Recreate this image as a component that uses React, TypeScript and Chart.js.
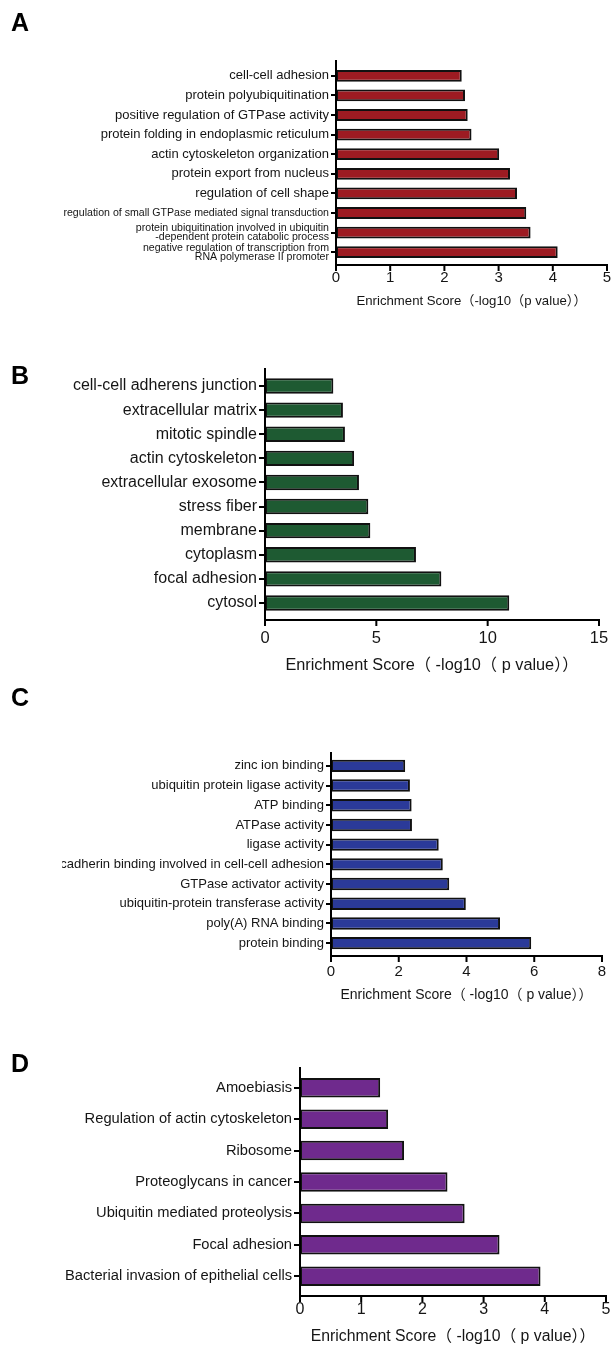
import React, { useEffect, useRef } from 'react';
import { Chart, registerables } from 'chart.js';
Chart.register(...registerables);

const FONT = '"Liberation Sans", Arial, "Noto Sans CJK SC", sans-serif';
const TEXT = '#151515';

// ---------- Panel A: biological process ----------
const aCategories: (string | string[])[] = [
  'cell-cell adhesion',
  'protein polyubiquitination',
  'positive regulation of GTPase activity',
  'protein folding in endoplasmic reticulum',
  'actin cytoskeleton organization',
  'protein export from nucleus',
  'regulation of cell shape',
  'regulation of small GTPase mediated signal transduction',
  ['protein ubiquitination involved in ubiquitin', '-dependent protein catabolic process'],
  ['negative regulation of transcription from', 'RNA polymerase II promoter'],
];
const aValues = [2.32, 2.38, 2.43, 2.5, 3.01, 3.21, 3.34, 3.51, 3.59, 4.09];
const aAxisMax = 5;
const aAxisStep = 1;
const aTitle = 'Enrichment Score（-log10（p value））';

// ---------- Panel B: cellular component ----------
const bCategories = [
  'cell-cell adherens junction',
  'extracellular matrix',
  'mitotic spindle',
  'actin cytoskeleton',
  'extracellular exosome',
  'stress fiber',
  'membrane',
  'cytoplasm',
  'focal adhesion',
  'cytosol',
];
const bValues = [3.07, 3.5, 3.59, 4.0, 4.22, 4.64, 4.73, 6.78, 7.92, 10.97];
const bAxisMax = 15;
const bAxisStep = 5;
const bTitle = 'Enrichment Score（ -log10（ p value））';

// ---------- Panel C: molecular function ----------
const cCategories = [
  'zinc ion binding',
  'ubiquitin protein ligase activity',
  'ATP binding',
  'ATPase activity',
  'ligase activity',
  'cadherin binding involved in cell-cell adhesion',
  'GTPase activator activity',
  'ubiquitin-protein transferase activity',
  'poly(A) RNA binding',
  'protein binding',
];
const cValues = [2.19, 2.33, 2.38, 2.39, 3.18, 3.3, 3.49, 3.98, 4.99, 5.91];
const cAxisMax = 8;
const cAxisStep = 2;
const cTitle = 'Enrichment Score（ -log10（ p value））';

// ---------- Panel D: KEGG pathways ----------
const dCategories = [
  'Amoebiasis',
  'Regulation of actin cytoskeleton',
  'Ribosome',
  'Proteoglycans in cancer',
  'Ubiquitin mediated proteolysis',
  'Focal adhesion',
  'Bacterial invasion of epithelial cells',
];
const dValues = [1.31, 1.44, 1.7, 2.41, 2.69, 3.26, 3.93];
const dAxisMax = 5;
const dAxisStep = 1;
const dTitle = 'Enrichment Score（ -log10（ p value））';

const prismAxes = {
  id: 'prismAxes',
  afterDraw(chart: any, _args: any, opts: any) {
    const { ctx, chartArea } = chart;
    const { left, right, top, bottom } = chartArea;
    const xs = chart.scales.x;
    const yb = bottom + opts.extBottom;
    ctx.save();
    ctx.strokeStyle = '#000';
    ctx.lineWidth = 2;
    ctx.beginPath();
    ctx.moveTo(left, top - opts.extTop);
    ctx.lineTo(left, yb);
    ctx.lineTo(right + 1, yb);
    ctx.stroke();
    ctx.lineWidth = 2;
    ctx.beginPath();
    xs.ticks.forEach((t: any) => {
      const px = xs.getPixelForValue(t.value);
      ctx.moveTo(px, yb);
      ctx.lineTo(px, yb + 6);
    });
    ctx.stroke();
    ctx.restore();
  },
};

type Spec = {
  categories: any[];
  values: number[];
  color: string;
  xMax: number;
  xStep: number;
  title: string;
  left: number;
  top: number;
  width: number;
  height: number;
  axisX: number;
  areaTop: number;
  areaBottom: number;
  areaRight: number;
  extTop: number;
  extBottom: number;
  labelFont: any;
  tickFont: number;
  tickCenterY: number;
  titleFont: number;
  titleCenterY: number;
  barPct: number;
  yTickLen: number;
};

function BarPanel({ spec }: { spec: Spec }) {
  const ref = useRef<HTMLCanvasElement>(null);
  useEffect(() => {
    const s = spec;
    const chart = new Chart(ref.current as HTMLCanvasElement, {
      type: 'bar',
      data: {
        labels: s.categories,
        datasets: [
          {
            data: s.values,
            backgroundColor: s.color,
            borderColor: '#111',
            borderWidth: 2,
            borderSkipped: false,
            barPercentage: s.barPct,
            categoryPercentage: 1,
          },
        ],
      },
      options: {
        indexAxis: 'y',
        animation: false,
        responsive: false,
        devicePixelRatio: 1,
        layout: {
          padding: {
            top: s.areaTop - s.top,
            right: s.left + s.width - s.areaRight,
            left: 0,
            bottom: 0,
          },
        },
        plugins: {
          legend: { display: false },
          tooltip: { enabled: false },
          prismAxes: { extTop: s.extTop, extBottom: s.extBottom },
        } as any,
        scales: {
          x: {
            type: 'linear',
            min: 0,
            max: s.xMax,
            ticks: {
              stepSize: s.xStep,
              color: TEXT,
              font: { family: FONT, size: s.tickFont },
              padding: s.tickCenterY - s.areaBottom - (s.tickFont * 1.2) / 2,
            },
            grid: { display: false, drawTicks: false },
            border: { display: false },
            title: {
              display: true,
              text: s.title,
              color: TEXT,
              font: { family: FONT, size: s.titleFont },
              padding: {
                top: 0,
                bottom: s.top + s.height - s.titleCenterY - (s.titleFont * 1.2) / 2,
              },
            },
            afterFit: (sc: any) => {
              sc.height = s.top + s.height - s.areaBottom;
              sc.paddingLeft = 0;
              sc.paddingRight = 0;
            },
          },
          y: {
            ticks: {
              autoSkip: false,
              color: TEXT,
              font: s.labelFont,
              padding: 2,
            },
            grid: {
              display: true,
              drawOnChartArea: false,
              drawTicks: true,
              tickLength: s.yTickLen,
              color: '#000',
              lineWidth: 2,
              offset: false,
            },
            border: { display: false },
            afterFit: (sc: any) => {
              sc.width = s.axisX - s.left;
              sc.paddingTop = 0;
              sc.paddingBottom = 0;
            },
          },
        },
      },
      plugins: [prismAxes as any],
    });
    return () => chart.destroy();
  }, [spec]);
  return (
    <canvas
      ref={ref}
      width={spec.width}
      height={spec.height}
      style={{
        position: 'absolute',
        left: spec.left,
        top: spec.top,
        width: spec.width,
        height: spec.height,
      }}
    />
  );
}

const specA: Spec = {
  categories: aCategories,
  values: aValues,
  color: '#9d1b22',
  xMax: aAxisMax,
  xStep: aAxisStep,
  title: aTitle,
  left: 0,
  top: 0,
  width: 615,
  height: 320,
  axisX: 336,
  areaTop: 66,
  areaBottom: 262,
  areaRight: 607,
  extTop: 6,
  extBottom: 3,
  labelFont: (ctx: any) =>
    ctx.index >= 7
      ? { family: FONT, size: 10.6, lineHeight: 0.85 }
      : { family: FONT, size: 13 },
  tickFont: 15,
  tickCenterY: 278,
  titleFont: 13.2,
  titleCenterY: 301,
  barPct: 0.6,
  yTickLen: 5,
};

const specB: Spec = {
  categories: bCategories,
  values: bValues,
  color: '#1e5a32',
  xMax: bAxisMax,
  xStep: bAxisStep,
  title: bTitle,
  left: 0,
  top: 330,
  width: 615,
  height: 360,
  axisX: 265,
  areaTop: 374,
  areaBottom: 615,
  areaRight: 599,
  extTop: 6,
  extBottom: 5,
  labelFont: { family: FONT, size: 16 },
  tickFont: 16.5,
  tickCenterY: 638,
  titleFont: 16.3,
  titleCenterY: 666,
  barPct: 0.64,
  yTickLen: 6,
};

const specC: Spec = {
  categories: cCategories,
  values: cValues,
  color: '#2b3a99',
  xMax: cAxisMax,
  xStep: cAxisStep,
  title: cTitle,
  left: 62,
  top: 700,
  width: 553,
  height: 320,
  axisX: 331,
  areaTop: 756,
  areaBottom: 953,
  areaRight: 602,
  extTop: 4,
  extBottom: 3,
  labelFont: { family: FONT, size: 13 },
  tickFont: 15,
  tickCenterY: 972,
  titleFont: 14,
  titleCenterY: 995,
  barPct: 0.63,
  yTickLen: 5,
};

const specD: Spec = {
  categories: dCategories,
  values: dValues,
  color: '#6f2a8d',
  xMax: dAxisMax,
  xStep: dAxisStep,
  title: dTitle,
  left: 0,
  top: 1030,
  width: 615,
  height: 318,
  axisX: 300,
  areaTop: 1072,
  areaBottom: 1292,
  areaRight: 606,
  extTop: 5,
  extBottom: 4,
  labelFont: { family: FONT, size: 14.7 },
  tickFont: 16,
  tickCenterY: 1310,
  titleFont: 15.8,
  titleCenterY: 1337,
  barPct: 0.62,
  yTickLen: 6,
};

const letters = [
  { text: 'A', top: 10 },
  { text: 'B', top: 363 },
  { text: 'C', top: 685 },
  { text: 'D', top: 1051 },
];

export default function App() {
  return (
    <div
      style={{
        position: 'absolute',
        left: 0,
        top: 0,
        width: 615,
        height: 1348,
        background: '#fff',
        overflow: 'hidden',
      }}
    >
      <BarPanel spec={specA} />
      <BarPanel spec={specB} />
      <BarPanel spec={specC} />
      <BarPanel spec={specD} />
      {letters.map((l) => (
        <div
          key={l.text}
          style={{
            position: 'absolute',
            left: 11,
            top: l.top,
            fontFamily: FONT,
            fontWeight: 'bold',
            fontSize: 25,
            lineHeight: '25px',
            color: '#000',
          }}
        >
          {l.text}
        </div>
      ))}
    </div>
  );
}
